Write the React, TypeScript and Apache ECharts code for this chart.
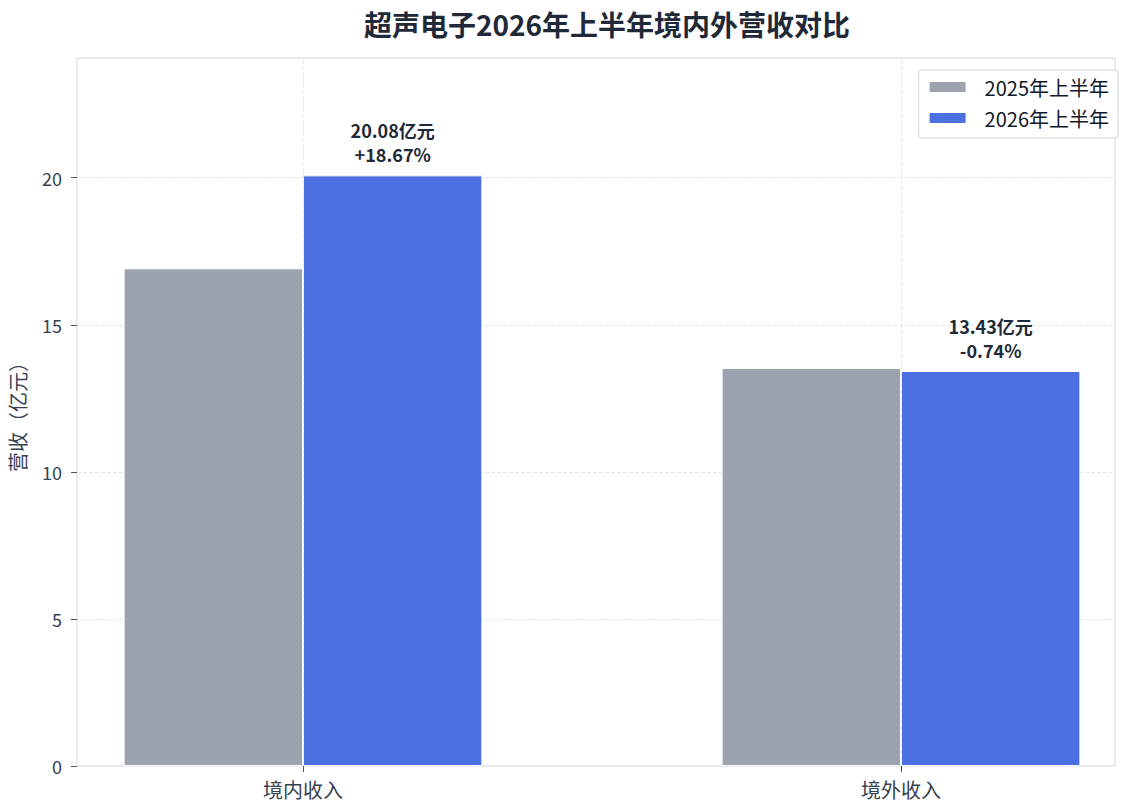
import React, { useEffect, useRef } from "react";
import * as echarts from "echarts";

const categories = ["境内收入", "境外收入"];
const seriesNames = ["2025年上半年", "2026年上半年"];
const values2025 = [16.92, 13.53];
const values2026 = [20.08, 13.43];
const changeLabels = ["+18.67%", "-0.74%"];
const yTicks = [0, 5, 10, 15, 20];

const FONT = "'Noto Sans CJK SC', 'Noto Sans', sans-serif";

export default function App() {
  const ref = useRef<HTMLDivElement>(null);
  useEffect(() => {
    document.body.style.margin = "0";
    if (!ref.current) return;
    const chart = echarts.init(ref.current, undefined, { renderer: "svg" });
    const yMax = 24.07;
    chart.setOption({
      animation: false,
      backgroundColor: "#ffffff",
      textStyle: { fontFamily: FONT },
      title: {
        text: "超声电子2026年上半年境内外营收对比",
        left: 602,
        top: 5,
        textAlign: "center",
        textStyle: { fontFamily: FONT, fontSize: 28, fontWeight: "bold", color: "#1f2937" },
      },
      legend: {
        orient: "vertical",
        right: 14,
        top: 70,
        data: seriesNames,
        icon: "rect",
        itemWidth: 38,
        itemHeight: 12,
        itemGap: 11,
        padding: [7, 9, 10, 9],
        borderColor: "#d1d5db",
        borderWidth: 1,
        borderRadius: 4,
        backgroundColor: "#ffffff",
        textStyle: { fontFamily: FONT, fontSize: 20, color: "#111827", padding: [0, 0, 0, 13] },
      },
      grid: [
        {
          left: 77, right: 17, top: 58, bottom: 45,
          show: true, borderColor: "#d1d5db", borderWidth: 1,
          containLabel: false, outerBoundsMode: "none",
        },
        { left: 4, width: 1196, top: 58, bottom: 45, containLabel: false, outerBoundsMode: "none" },
      ],
      xAxis: [
        { type: "value", gridIndex: 0, show: false, min: 0, max: 1, splitLine: { show: false } },
        {
          type: "category",
          gridIndex: 1,
          data: categories,
          axisLine: { show: false },
          axisTick: { show: true, alignWithLabel: true, length: 6, lineStyle: { color: "#4b5563" } },
          axisLabel: { fontFamily: FONT, fontSize: 20, color: "#374151", margin: 13 },
          splitLine: { show: false },
        },
      ],
      yAxis: [
        {
          type: "value",
          gridIndex: 0,
          min: 0,
          max: yMax,
          interval: 5,
          name: "营收（亿元）",
          nameLocation: "middle",
          nameGap: 50,
          nameTextStyle: { fontFamily: FONT, fontSize: 20, color: "#374151" },
          axisLine: { show: false },
          axisTick: { show: true, length: 6, lineStyle: { color: "#4b5563" } },
          axisLabel: {
            fontFamily: FONT,
            fontSize: 18,
            color: "#374151",
            margin: 15,
            showMaxLabel: false,
            formatter: (v: number) => (yTicks.includes(v) ? String(v) : ""),
          },
          splitLine: { show: true, lineStyle: { color: "#e5e7eb", type: "dashed", width: 1 } },
        },
        { type: "value", gridIndex: 1, min: 0, max: yMax, show: false },
      ],
      series: [
        {
          name: "vgrid",
          type: "line",
          xAxisIndex: 1,
          yAxisIndex: 1,
          data: categories.map(() => null),
          showSymbol: false,
          silent: true,
          z: 1,
          markLine: {
            silent: true,
            symbol: "none",
            label: { show: false },
            lineStyle: { color: "#e5e7eb", type: "dashed", width: 1 },
            data: categories.map((c) => ({ xAxis: c })),
          },
        },
        {
          name: seriesNames[0],
          type: "bar",
          xAxisIndex: 1,
          yAxisIndex: 1,
          data: values2025,
          barWidth: "30%",
          barGap: "0%",
          z: 3,
          itemStyle: { color: "#9ca3af", borderColor: "#ffffff", borderWidth: 1 },
        },
        {
          name: seriesNames[1],
          type: "bar",
          xAxisIndex: 1,
          yAxisIndex: 1,
          data: values2026,
          barWidth: "30%",
          barGap: "0%",
          z: 3,
          itemStyle: { color: "#4a70e2", borderColor: "#ffffff", borderWidth: 1 },
          label: {
            show: true,
            position: "top",
            distance: 9,
            fontFamily: FONT,
            fontSize: 18,
            fontWeight: "bold",
            color: "#1f2937",
            lineHeight: 24,
            formatter: (p: any) => `${values2026[p.dataIndex].toFixed(2)}亿元\n${changeLabels[p.dataIndex]}`,
          },
        },
      ],
    });
    return () => chart.dispose();
  }, []);
  return <div ref={ref} style={{ width: 1132, height: 811 }} />;
}
